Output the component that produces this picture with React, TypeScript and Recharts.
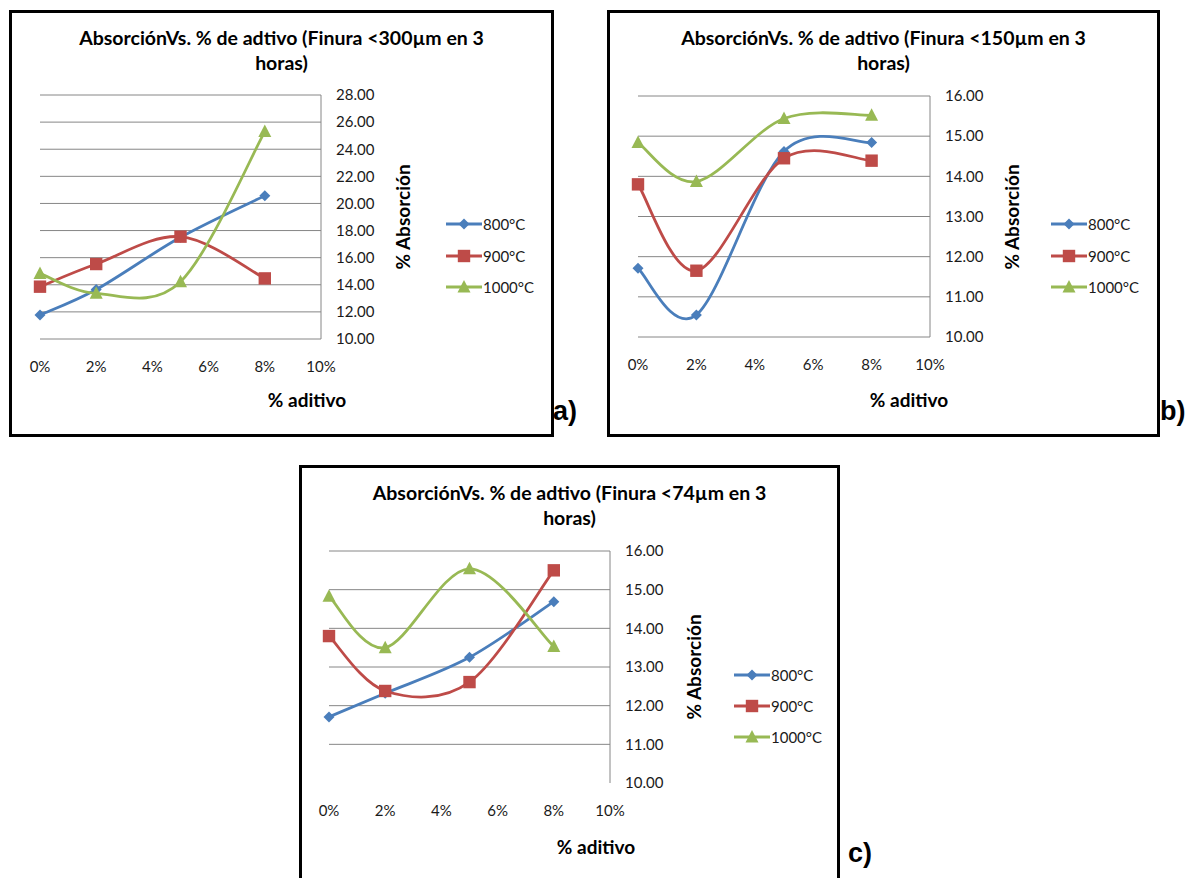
import React from 'react';
import { LineChart, Line, XAxis, YAxis, CartesianGrid } from 'recharts';

// additive fraction of every measurement (0%, 2%, 5%, 8%)
const aditivo = [0, 0.02, 0.05, 0.08];
const xTicks = [0, 0.02, 0.04, 0.06, 0.08, 0.1];

// Finura <300µm
const ticksA = [10, 12, 14, 16, 18, 20, 22, 24, 26, 28];
const a800 = [11.77, 13.65, 17.5, 20.57];
const a900 = [13.86, 15.53, 17.55, 14.47];
const a1000 = [14.84, 13.37, 14.23, 25.3];

// Finura <150µm
const ticksB = [10, 11, 12, 13, 14, 15, 16];
const b800 = [11.71, 10.55, 14.62, 14.84];
const b900 = [13.8, 11.65, 14.45, 14.39];
const b1000 = [14.84, 13.87, 15.44, 15.52];

// Finura <74µm
const ticksC = [10, 11, 12, 13, 14, 15, 16];
const c800 = [11.71, 12.32, 13.25, 14.69];
const c900 = [13.8, 12.38, 12.61, 15.5];
const c1000 = [14.83, 13.5, 15.54, 13.53];

const temperaturas = ['800°C', '900°C', '1000°C'];
const colores = ['#4A7EBB', '#BE4B48', '#98B954'];
const formas: Shape[] = ['diamond', 'square', 'triangle'];

type Shape = 'diamond' | 'square' | 'triangle';

const FONT = 'Lato, "Open Sans", sans-serif';
const GRID = '#868686';

// Excel style smoothing: Catmull-Rom segments written as cubic beziers
const excelSmooth = (context: any) => {
  let pts: [number, number][] = [];
  return {
    areaStart() {},
    areaEnd() {},
    lineStart() {
      pts = [];
    },
    lineEnd() {
      if (!pts.length) return;
      context.moveTo(pts[0][0], pts[0][1]);
      for (let i = 0; i < pts.length - 1; i++) {
        const p0 = pts[i - 1] || pts[i];
        const p1 = pts[i];
        const p2 = pts[i + 1];
        const p3 = pts[i + 2] || p2;
        context.bezierCurveTo(
          p1[0] + (p2[0] - p0[0]) / 6,
          p1[1] + (p2[1] - p0[1]) / 6,
          p2[0] - (p3[0] - p1[0]) / 6,
          p2[1] - (p3[1] - p1[1]) / 6,
          p2[0],
          p2[1]
        );
      }
    },
    point(x: number, y: number) {
      pts.push([+x, +y]);
    },
  };
};

const Marker = ({ cx, cy, shape, color }: { cx: number; cy: number; shape: Shape; color: string }) => {
  if (shape === 'diamond') {
    const r = 5.5;
    return <polygon points={`${cx},${cy - r} ${cx + r},${cy} ${cx},${cy + r} ${cx - r},${cy}`} fill={color} />;
  }
  if (shape === 'square') {
    return <rect x={cx - 6.2} y={cy - 6.2} width={12.4} height={12.4} fill={color} />;
  }
  return <polygon points={`${cx},${cy - 7} ${cx + 6.5},${cy + 5.5} ${cx - 6.5},${cy + 5.5}`} fill={color} />;
};

interface Rect {
  x: number;
  y: number;
  w: number;
  h: number;
}

interface PanelProps {
  title: string;
  tag: string;
  box: Rect;
  plot: { x0: number; y0: number; x1: number; y1: number };
  yTicks: number[];
  gridValues?: number[];
  values: number[][];
  legend: { x: number; y: number; gap: number };
  yTitle: { x: number; y: number };
  xTitle: { x: number; y: number };
  tagPos: { x: number; y: number };
}

const Y_AXIS_W = 60;
const X_AXIS_H = 40;
const TICK_STYLE = { fill: '#1a1a1a', fontSize: 15, fontFamily: FONT };

const Panel = ({ title, tag, box, plot, yTicks, gridValues, values, legend, yTitle, xTitle, tagPos }: PanelProps) => {
  const data = aditivo.map((x, i) => ({
    x,
    t800: values[0][i],
    t900: values[1][i],
    t1000: values[2][i],
  }));
  const keys = ['t800', 't900', 't1000'];
  const margin = {
    left: plot.x0 - box.x,
    top: plot.y0 - box.y,
    right: box.x + box.w - plot.x1 - Y_AXIS_W,
    bottom: box.y + box.h - plot.y1 - X_AXIS_H,
  };
  const lines = title.split('\n');

  return (
    <>
      <div
        style={{
          position: 'absolute',
          left: box.x,
          top: box.y,
          width: box.w,
          height: box.h,
          boxSizing: 'border-box',
          border: '3px solid #000',
          borderBottom: box.y + box.h > 878 ? 'none' : '3px solid #000',
          background: '#fff',
        }}
      />
      {lines.map((t, i) => (
        <div
          key={i}
          style={{
            position: 'absolute',
            left: box.x,
            width: box.w,
            top: box.y + 28 + i * 25 - 12,
            height: 24,
            lineHeight: '24px',
            textAlign: 'center',
            fontWeight: 700,
            fontSize: 19.5,
            whiteSpace: 'nowrap',
          }}
        >
          {t}
        </div>
      ))}
      <div style={{ position: 'absolute', left: box.x, top: box.y }}>
        <LineChart width={box.w} height={box.h} data={data} margin={margin}>
          <CartesianGrid
            vertical={false}
            stroke={GRID}
            strokeWidth={1}
            horizontalValues={gridValues ?? yTicks}
          />
          <XAxis
            dataKey="x"
            type="number"
            domain={[0, 0.1]}
            ticks={xTicks}
            interval={0}
            height={X_AXIS_H}
            axisLine={false}
            tickLine={false}
            tickSize={0}
            tickMargin={22}
            tickFormatter={(v: number) => `${Math.round(v * 100)}%`}
            tick={TICK_STYLE}
          />
          <YAxis
            orientation="right"
            type="number"
            domain={[yTicks[0], yTicks[yTicks.length - 1]]}
            ticks={yTicks}
            interval={0}
            width={Y_AXIS_W}
            axisLine={{ stroke: GRID, strokeWidth: 1 }}
            tickLine={false}
            tickSize={0}
            tickMargin={15}
            tickFormatter={(v: number) => v.toFixed(2)}
            tick={TICK_STYLE}
          />
          {keys.map((k, s) => (
            <Line
              key={k}
              dataKey={k}
              name={temperaturas[s]}
              type={excelSmooth as any}
              stroke={colores[s]}
              strokeWidth={2.8}
              activeDot={false}
              isAnimationActive={false}
              dot={(p: any) => (
                <Marker key={`${k}-${p.index}`} cx={p.cx} cy={p.cy} shape={formas[s]} color={colores[s]} />
              )}
            />
          ))}
        </LineChart>
      </div>
      {temperaturas.map((t, s) => (
        <div
          key={t}
          style={{
            position: 'absolute',
            left: legend.x,
            top: legend.y + s * legend.gap - 10,
            height: 20,
            display: 'flex',
            alignItems: 'center',
            fontSize: 15,
            color: '#1a1a1a',
            whiteSpace: 'nowrap',
          }}
        >
          <svg width={36} height={18} style={{ display: 'block' }}>
            <line x1={0} y1={9} x2={36} y2={9} stroke={colores[s]} strokeWidth={2.8} />
            <Marker cx={18} cy={9} shape={formas[s]} color={colores[s]} />
          </svg>
          <span style={{ marginLeft: 1 }}>{t}</span>
        </div>
      ))}
      <div
        style={{
          position: 'absolute',
          left: yTitle.x - 70,
          top: yTitle.y - 12,
          width: 140,
          height: 24,
          lineHeight: '24px',
          textAlign: 'center',
          fontWeight: 700,
          fontSize: 19,
          transform: 'rotate(-90deg)',
          whiteSpace: 'nowrap',
        }}
      >
        % Absorción
      </div>
      <div
        style={{
          position: 'absolute',
          left: xTitle.x - 70,
          top: xTitle.y - 12,
          width: 140,
          height: 24,
          lineHeight: '24px',
          textAlign: 'center',
          fontWeight: 700,
          fontSize: 19,
          whiteSpace: 'nowrap',
        }}
      >
        % aditivo
      </div>
      <div
        style={{
          position: 'absolute',
          left: tagPos.x,
          top: tagPos.y - 15,
          height: 30,
          lineHeight: '30px',
          fontWeight: 700,
          fontSize: 27,
          fontFamily: 'Liberation Sans, Arial, sans-serif',
        }}
      >
        {tag}
      </div>
    </>
  );
};

export default function App() {
  return (
    <div
      style={{
        position: 'absolute',
        left: 0,
        top: 0,
        width: 1186,
        height: 878,
        overflow: 'hidden',
        background: '#fff',
        fontFamily: FONT,
        color: '#000',
      }}
    >
      <Panel
        title={'AbsorciónVs. % de adtivo (Finura <300µm en 3\nhoras)'}
        tag="a)"
        box={{ x: 9, y: 10, w: 545, h: 427 }}
        plot={{ x0: 40, y0: 95, x1: 321, y1: 339 }}
        yTicks={ticksA}
        values={[a800, a900, a1000]}
        legend={{ x: 446, y: 224, gap: 31.5 }}
        yTitle={{ x: 403, y: 217 }}
        xTitle={{ x: 307, y: 400 }}
        tagPos={{ x: 553, y: 411 }}
      />
      <Panel
        title={'AbsorciónVs. % de adtivo (Finura <150µm en 3\nhoras)'}
        tag="b)"
        box={{ x: 607, y: 10, w: 553, h: 427 }}
        plot={{ x0: 638, y0: 96, x1: 930, y1: 337 }}
        yTicks={ticksB}
        values={[b800, b900, b1000]}
        legend={{ x: 1051, y: 224, gap: 31.5 }}
        yTitle={{ x: 1012, y: 217 }}
        xTitle={{ x: 909, y: 400 }}
        tagPos={{ x: 1160, y: 411 }}
      />
      <Panel
        title={'AbsorciónVs. % de adtivo (Finura <74µm en 3\nhoras)'}
        tag="c)"
        box={{ x: 299, y: 465, w: 541, h: 420 }}
        plot={{ x0: 329, y0: 551, x1: 610, y1: 783 }}
        yTicks={ticksC}
        gridValues={[11, 12, 13, 14, 15, 16]}
        values={[c800, c900, c1000]}
        legend={{ x: 734, y: 675, gap: 31 }}
        yTitle={{ x: 694, y: 667 }}
        xTitle={{ x: 596, y: 847 }}
        tagPos={{ x: 848, y: 853 }}
      />
    </div>
  );
}
